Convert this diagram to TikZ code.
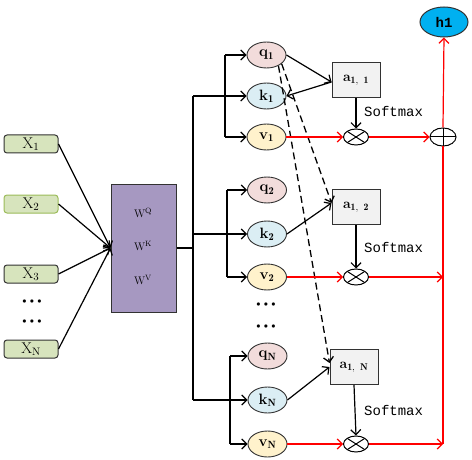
\documentclass[tikz,border=0pt]{standalone}
\usepackage{fontspec}
\newfontfamily\monof{Liberation Mono}
\usetikzlibrary{arrows.meta,calc,shapes.geometric}
\definecolor{xgreen}{RGB}{215,228,189}
\definecolor{xgreenb}{RGB}{155,187,89}
\definecolor{wpurple}{RGB}{166,152,193}
\definecolor{qpink}{RGB}{242,220,219}
\definecolor{kblue}{RGB}{219,238,244}
\definecolor{vyellow}{RGB}{255,242,204}
\definecolor{agray}{RGB}{242,242,242}
\definecolor{hcyan}{RGB}{0,176,240}
\definecolor{bord}{RGB}{50,50,50}
\begin{document}
\begin{tikzpicture}[x=1pt,y=-1pt,
 arr/.style={-{Straight Barb[length=5pt,width=10pt]}},
 ln/.style={line width=1.2pt,black},
 rl/.style={line width=1.2pt,red},
 dsh/.style={line width=1.3pt,black,dash pattern=on 7pt off 4pt},
 xbox/.style={draw=bord,fill=xgreen,rounded corners=3pt,minimum width=54pt,minimum height=18pt,inner sep=0pt,line width=1pt,font=\fontsize{15.5}{15.5}\selectfont},
 wbox/.style={draw=bord,fill=wpurple,minimum width=65pt,minimum height=128pt,inner sep=0pt,line width=1pt},
 wtxt/.style={inner sep=0pt,font=\fontsize{11}{11}\selectfont},
 dotsn/.style={inner sep=0pt,font=\fontsize{8}{8}\selectfont},
 ell/.style={ellipse,draw=bord,line width=0.9pt,minimum width=39pt,minimum height=26pt,inner sep=0pt,font=\fontsize{15}{15}\selectfont\bfseries},
 abox/.style={draw=bord,fill=agray,minimum width=48pt,minimum height=35pt,inner sep=0pt,line width=1pt,font=\fontsize{14}{14}\selectfont\bfseries},
 otimesn/.style={ellipse,draw=black,line width=1pt,minimum width=25pt,minimum height=16pt,inner sep=0pt,
   path picture={\draw[line width=1pt] (path picture bounding box.south west) -- (path picture bounding box.north east) (path picture bounding box.north west) -- (path picture bounding box.south east);}},
 oplusn/.style={ellipse,draw=black,line width=1pt,minimum width=26pt,minimum height=18pt,inner sep=0pt,
   path picture={\draw[line width=1pt] (path picture bounding box.west) -- (path picture bounding box.east) (path picture bounding box.north) -- (path picture bounding box.south);}},
 smax/.style={anchor=west,inner sep=0pt,font=\fontsize{14}{14}\selectfont\monof},
]
\useasboundingbox (0,0) rectangle (472,460);
% inputs
\node[xbox] (x1) at (31,144) {X$_1$};
\node[xbox,draw=xgreenb] (x2) at (31,204) {X$_2$};
\node[xbox] (x3) at (31,274) {X$_3$};
\node[xbox] (xn) at (31,349) {X$_{\mathrm{N}}$};
\node[dotsn] (d1) at (32,302) {$\bullet\mkern3mu\bullet\mkern3mu\bullet$};
\node[dotsn] (d2) at (32,322) {$\bullet\mkern3mu\bullet\mkern3mu\bullet$};
% weights
\node[wbox] (W) at (143.5,248) {};
\node[wtxt] (wq) at (143,213) {W$^{\mathrm{Q}}$};
\node[wtxt] (wk) at (143,246) {W$^{\mathrm{K}}$};
\node[wtxt] (wv) at (143,280) {W$^{\mathrm{V}}$};
% q k v
\node[ell,fill=qpink] (q1) at (266.5,55) {q$_{\mathbf{1}}$};
\node[ell,fill=kblue] (k1) at (266.5,96) {k$_{\mathbf{1}}$};
\node[ell,fill=vyellow] (v1) at (266.5,137) {v$_{\mathbf{1}}$};
\node[ell,fill=qpink] (q2) at (267,190) {q$_{\mathbf{2}}$};
\node[ell,fill=kblue] (k2) at (267,234) {k$_{\mathbf{2}}$};
\node[ell,fill=vyellow] (v2) at (267,277) {v$_{\mathbf{2}}$};
\node[ell,fill=qpink] (qN) at (267.5,356) {q$_{\mathbf{N}}$};
\node[ell,fill=kblue] (kN) at (267.5,400) {k$_{\mathbf{N}}$};
\node[ell,fill=vyellow] (vN) at (267.5,444) {v$_{\mathbf{N}}$};
\node[dotsn] (d3) at (266,305) {$\bullet\mkern3mu\bullet\mkern3mu\bullet$};
\node[dotsn] (d4) at (266,327) {$\bullet\mkern3mu\bullet\mkern3mu\bullet$};
% attention
\node[abox] (a11) at (356,80) {a$_{\mathbf{1,\ 1}}$};
\node[abox] (a12) at (356,207) {a$_{\mathbf{1,\ 2}}$};
\node[abox] (aN) at (354,367) {a$_{\mathbf{1,\ N}}$};
\node[otimesn] (ot1) at (356,137) {};
\node[otimesn] (ot2) at (356,277) {};
\node[otimesn] (otN) at (356,444) {};
\node[smax] (s1) at (364,111) {Softmax};
\node[smax] (s2) at (364,247) {Softmax};
\node[smax] (sN) at (364,410) {Softmax};
\node[oplusn] (plus) at (443,137) {};
\node[ellipse,draw=bord,fill=hcyan,line width=1pt,minimum width=48pt,minimum height=30pt,inner sep=0pt,font=\fontsize{14}{14}\selectfont\monof\bfseries] (h1) at (444,22) {h1};
% connectors: inputs to W
\foreach \x in {x1,x2,x3,xn} \draw[ln,arr] (\x.east) -- (W.west);
\coordinate (t) at (193,248);
\draw[ln] (W.east) -- (t);
\draw[ln] (t |- k1) -- (t |- kN);
\foreach \k in {k1,k2,kN} \draw[ln,arr] (t |- \k) -- (\k.west);
\coordinate (i1) at (225,0);
\coordinate (i2) at (227,0);
\coordinate (iN) at (230,0);
\draw[ln] (i1 |- q1) -- (i1 |- v1);
\draw[ln,arr] (i1 |- q1) -- (q1.west);
\draw[ln,arr] (i1 |- v1) -- (v1.west);
\draw[ln] (i2 |- q2) -- (i2 |- v2);
\draw[ln,arr] (i2 |- q2) -- (q2.west);
\draw[ln,arr] (i2 |- v2) -- (v2.west);
\draw[ln] (iN |- qN) -- (iN |- vN);
\draw[ln,arr] (iN |- qN) -- (qN.west);
\draw[ln,arr] (iN |- vN) -- (vN.west);
% q,k to a
\draw[ln,arr] (q1.east) -- ($(a11.west)+(0,2)$);
\draw[ln,arr] ($(a11.west)+(0,2)$) -- (k1.east);
\draw[ln,arr] (k2.east) -- ($(a12.west)+(0,-4)$);
\draw[ln,arr] (kN.east) -- (aN.west);
\draw[dsh,arr] (q1.-30) -- ($(a12.west)+(0,-4)$);
\draw[dsh,arr] (q1.-42) -- ($(aN.west)+(0,-4)$);
% softmax down
\draw[ln,arr] (a11.south) -- (ot1.north);
\draw[ln,arr] (a12.south) -- (ot2.north);
\draw[ln,arr] (aN.south) -- (otN.north);
% red value path
\draw[rl,arr] (v1.east) -- (ot1.west);
\draw[rl,arr] (ot1.east) -- (plus.west);
\draw[rl,arr] (v2.east) -- (ot2.west);
\draw[rl,arr] (ot2.east) -- (ot2 -| plus);
\draw[rl,arr] (vN.east) -- (otN.west);
\draw[rl,arr] (otN.east) -- (otN -| plus);
\draw[rl] (otN -| plus) -- (plus.south);
\draw[rl,arr] (plus.north) -- (h1.south);
\end{tikzpicture}
\end{document}
